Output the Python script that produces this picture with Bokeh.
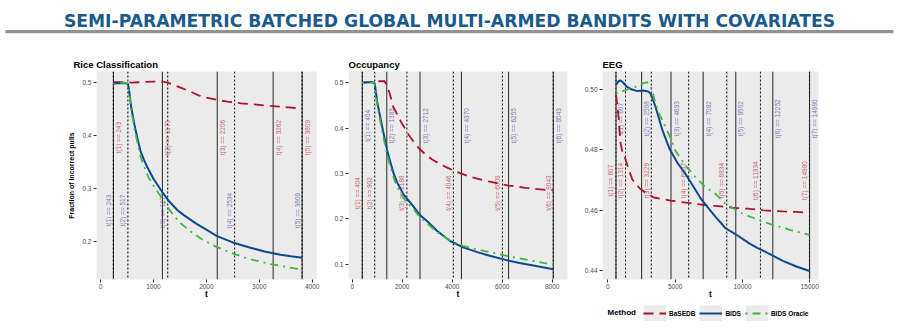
import math
from bokeh.plotting import figure
from bokeh.layouts import column, row
from bokeh.models import (Range1d, FixedTicker, Span, Label, Legend, LegendItem,
                          BoxAnnotation)
from bokeh.core.properties import value
from bokeh.embed import file_html
from bokeh.resources import INLINE

# ---------------------------------------------------------------- data
# Rice Classification
rice_t_basedb = [243, 400, 600, 800, 1000, 1170, 1270, 1400, 1550, 1700, 1850, 2000,
                 2200, 2400, 2650, 2900, 3200, 3500, 3809]
rice_basedb = [0.500, 0.500, 0.499, 0.500, 0.501, 0.501, 0.499, 0.494, 0.488, 0.482,
               0.475, 0.4705, 0.4665, 0.463, 0.460, 0.458, 0.455, 0.453, 0.450]
rice_t_bids = [243, 350, 450, 517, 540, 580, 640, 700, 756, 820, 883, 1000, 1166, 1300,
               1450, 1575, 1800, 2000, 2200, 2500, 2800, 3100, 3400, 3600, 3809]
rice_bids = [0.497, 0.498, 0.498, 0.497, 0.485, 0.452, 0.420, 0.393, 0.370, 0.354,
             0.340, 0.318, 0.293, 0.275, 0.259, 0.2495, 0.234, 0.222, 0.210, 0.198,
             0.189, 0.181, 0.175, 0.172, 0.169]
rice_t_oracle = [243, 350, 450, 517, 540, 580, 640, 700, 756, 820, 900, 1000, 1100,
                 1166, 1260, 1400, 1512, 1701, 1900, 2180, 2508, 2800, 3225, 3500, 3809]
rice_oracle = [0.496, 0.498, 0.499, 0.497, 0.482, 0.448, 0.412, 0.385, 0.360, 0.342,
               0.322, 0.305, 0.290, 0.281, 0.265, 0.247, 0.234, 0.219, 0.205, 0.190,
               0.177, 0.167, 0.157, 0.152, 0.147]
rice_batches_basedb = [243, 1170, 2206, 3262, 3809]
rice_batches_bids = [243, 517, 1270, 2534, 3809]

# Occupancy
occ_t_basedb = [404, 700, 902, 1100, 1300, 1400, 1500, 1640, 1800, 1950, 2100, 2250,
                2440, 2692, 2932, 3200, 3504, 3864, 4172, 4732, 5452, 6252, 6932,
                7732, 8043]
occ_basedb = [0.500, 0.501, 0.502, 0.503, 0.503, 0.492, 0.476, 0.447, 0.430, 0.414,
              0.400, 0.386, 0.371, 0.354, 0.342, 0.331, 0.321, 0.3113, 0.304, 0.2924,
              0.2827, 0.2735, 0.2686, 0.2642, 0.2630]
occ_t = [404, 600, 800, 900, 950, 1000, 1100, 1200, 1383, 1500, 1664, 1800, 2064, 2188,
         2400, 2712, 3000, 3400, 3932, 4464, 5000, 5500, 6172, 6700, 7300, 8043]
occ_bids = [0.500, 0.501, 0.501, 0.499, 0.478, 0.458, 0.430, 0.403, 0.355, 0.330,
            0.299, 0.280, 0.253, 0.2445, 0.231, 0.2085, 0.195, 0.1735, 0.151, 0.137,
            0.127, 0.119, 0.1095, 0.103, 0.097, 0.0895]
occ_oracle = [0.499, 0.500, 0.500, 0.498, 0.472, 0.452, 0.422, 0.393, 0.345, 0.320,
              0.290, 0.271, 0.245, 0.237, 0.225, 0.204, 0.190, 0.171, 0.152, 0.140,
              0.133, 0.127, 0.119, 0.113, 0.107, 0.099]
occ_batches_basedb = [404, 902, 2188, 4046, 6009, 8043]
occ_batches_bids = [404, 1383, 2712, 4370, 6255, 8043]

# EEG
eeg_t_basedb = [607, 700, 817, 944, 1100, 1315, 1550, 1813, 2100, 2429, 2800, 3418,
                4000, 4659, 5300, 5996, 6700, 7386, 8000, 8745, 9500, 10400, 11472,
                12089, 13000, 14000, 14980]
eeg_basedb = [0.4985, 0.495, 0.490, 0.4823, 0.479, 0.4769, 0.4735, 0.4703, 0.4685,
              0.467, 0.4658, 0.4642, 0.4637, 0.4632, 0.4628, 0.4624, 0.462, 0.4616,
              0.4614, 0.4611, 0.4607, 0.4605, 0.460, 0.4598, 0.4596, 0.4594, 0.4592]
eeg_t_bids = [607, 800, 940, 1100, 1400, 1800, 2200, 2600, 3000, 3200, 3544, 4042,
              4607, 5200, 5773, 6400, 6910, 7500, 8002, 8745, 9500, 10500, 11100,
              12000, 13000, 14000, 14980]
eeg_bids = [0.5015, 0.5028, 0.503, 0.5025, 0.501, 0.500, 0.4995, 0.4997, 0.4994,
            0.4985, 0.4943, 0.4867, 0.4801, 0.4755, 0.472, 0.4675, 0.4638, 0.4605,
            0.4578, 0.454, 0.452, 0.449, 0.4475, 0.4455, 0.4432, 0.4413, 0.4398]
eeg_t_oracle = [607, 817, 1100, 1559, 2000, 2550, 2921, 3168, 3300, 3544, 3800, 4161,
                4600, 5030, 5899, 6500, 7259, 8002, 8745, 9986, 11100, 12089, 13574,
                14980]
eeg_oracle = [0.4985, 0.4992, 0.4995, 0.5002, 0.5008, 0.502, 0.5025, 0.5015, 0.4995,
              0.4954, 0.492, 0.4889, 0.4845, 0.4796, 0.4741, 0.471, 0.4676, 0.4654,
              0.4621, 0.4589, 0.4569, 0.4554, 0.4534, 0.4518]
eeg_batches_basedb = [607, 1314, 3229, 6007, 8834, 11334, 14980]
eeg_batches_bids = [607, 2508, 4693, 7082, 9502, 12252, 14980]

# axis ticks
rice_xticks = [0, 1000, 2000, 3000, 4000]
rice_xlabels = ["0", "1000", "2000", "3000", "4000"]
rice_yticks = [0.2, 0.3, 0.4, 0.5]
rice_ylabels = ["0.2", "0.3", "0.4", "0.5"]
occ_xticks = [0, 2000, 4000, 6000, 8000]
occ_xlabels = ["0", "2000", "4000", "6000", "8000"]
occ_yticks = [0.1, 0.2, 0.3, 0.4, 0.5]
occ_ylabels = ["0.1", "0.2", "0.3", "0.4", "0.5"]
eeg_xticks = [0, 5000, 10000, 15000]
eeg_xlabels = ["0", "5000", "10000", "15000"]
eeg_yticks = [0.44, 0.46, 0.48, 0.50]
eeg_ylabels = ["0.44", "0.46", "0.48", "0.50"]

methods = ["BaSEDB", "BIDS", "BIDS Oracle"]

# ---------------------------------------------------------------- style
RED = "#B0122D"
BLUE = "#0B4A8F"
GREEN = "#45B53F"
RED_LABEL = "#C0505C"
BLUE_LABEL = "#6F67AE"
PANEL_BG = "#EBEBEB"
FONT = "Liberation Sans"
RED_DASH = "10 6"
GREEN_DASH = "2 5 8 5"

HEADER_H = 44
PANEL_H = 257
LEGEND_H = 27
BORDER_TOP = 27
FRAME_H = 211


def make_panel(title, width, left, right, xr, yr, xticks, xlabels, yticks, ylabels,
               title_offset=0, ylabel=None):
    p = figure(width=width, height=PANEL_H, x_range=Range1d(*xr), y_range=Range1d(*yr),
               toolbar_location=None, output_backend="svg",
               min_border_left=left, min_border_right=right,
               min_border_top=BORDER_TOP,
               min_border_bottom=PANEL_H - BORDER_TOP - FRAME_H)
    p.background_fill_color = PANEL_BG
    p.border_fill_color = "white"
    p.outline_line_color = None
    p.grid.visible = False

    p.title.text = title
    p.title.align = "left"
    p.title.offset = title_offset
    p.title.text_font = FONT
    p.title.text_font_size = "9.5px"
    p.title.text_font_style = "bold"
    p.title.text_color = "black"
    p.title.standoff = 4

    p.xaxis.ticker = FixedTicker(ticks=xticks)
    p.xaxis.major_label_overrides = dict(zip(xticks, xlabels))
    p.yaxis.ticker = FixedTicker(ticks=yticks)
    p.yaxis.major_label_overrides = dict(zip(yticks, ylabels))
    for ax in (p.xaxis[0], p.yaxis[0]):
        ax.axis_line_color = None
        ax.major_tick_line_color = "#333333"
        ax.major_tick_out = 3
        ax.major_tick_in = 0
        ax.minor_tick_line_color = None
        ax.major_label_text_font = FONT
        ax.major_label_text_font_size = "6.5px"
        ax.major_label_text_color = "#4D4D4D"
        ax.major_label_standoff = 2
        ax.axis_label_text_font = FONT
        ax.axis_label_text_font_style = "bold"
        ax.axis_label_text_color = "black"
    p.xaxis.major_label_standoff = 1
    p.xaxis.axis_label = "t"
    p.xaxis.axis_label_text_font_size = "8.5px"
    p.xaxis.axis_label_standoff = -3
    if ylabel:
        p.yaxis.axis_label = ylabel
        p.yaxis.axis_label_text_font_size = "7px"
        p.yaxis.axis_label_standoff = 4
    return p


def add_batches(p, batches, label_y, color, solid):
    # vertical markers for batch ends, labelled with the batch time
    for t in batches:
        if solid:
            s = Span(location=t, dimension="height", line_color="#1A1A1A",
                     line_width=1.1, line_alpha=0.85, level="underlay")
        else:
            s = Span(location=t, dimension="height", line_color="black",
                     line_width=1, line_dash="2 2", level="underlay")
        p.add_layout(s)
    texts = [f"t({i}) == {t}" for i, t in enumerate(batches, start=1)]
    p.text(x=batches, y=[label_y] * len(batches), text=texts, angle=math.pi / 2,
           x_offset=5 if solid else -5, text_align="center", text_baseline="middle",
           text_font=value(FONT), text_font_size="6.5px", text_color=color,
           text_alpha=0.9)


def add_curves(p, tb, yb, ti, yi, to, yo):
    r_b = p.line(tb, yb, line_color=RED, line_width=1.8, line_dash=RED_DASH)
    r_i = p.line(ti, yi, line_color=BLUE, line_width=2)
    r_o = p.line(to, yo, line_color=GREEN, line_width=1.8, line_dash=GREEN_DASH)
    return r_b, r_i, r_o


def blank_strip(height):
    f = figure(width=898, height=height, x_range=Range1d(0, 898), y_range=Range1d(0, height),
               toolbar_location=None, output_backend="svg", min_border=0,
               x_axis_location=None, y_axis_location=None)
    f.grid.visible = False
    f.outline_line_color = None
    return f


# ---------------------------------------------------------------- header
head = blank_strip(HEADER_H)
head.add_layout(Label(x=449, y=HEADER_H - 20, text="SEMI-PARAMETRIC BATCHED GLOBAL MULTI-ARMED BANDITS WITH COVARIATES",
                      text_align="center", text_baseline="alphabetic",
                      text_font="DejaVu Sans", text_font_size="17.2px",
                      text_font_style="bold", text_color="#1A5A8E"))
head.add_layout(BoxAnnotation(left=5, right=893, top=HEADER_H - 29.5, bottom=HEADER_H - 32.8,
                              fill_color="#929292", fill_alpha=1, line_color=None))

# ---------------------------------------------------------------- panels
p1 = make_panel("Rice Classification", 330, 96, 14, (-76, 4081), (0.1282, 0.5199),
                rice_xticks, rice_xlabels, rice_yticks, rice_ylabels,
                title_offset=-23, ylabel="Fraction of Incorrect pulls")
add_batches(p1, rice_batches_basedb, 0.3955, RED_LABEL, True)
add_batches(p1, rice_batches_bids, 0.258, BLUE_LABEL, False)
add_curves(p1, rice_t_basedb, rice_basedb, rice_t_bids, rice_bids, rice_t_oracle, rice_oracle)

p2 = make_panel("Occupancy", 250, 18, 13, (-148, 8612), (0.0668, 0.5245),
                occ_xticks, occ_xlabels, occ_yticks, occ_ylabels)
add_batches(p2, occ_batches_basedb, 0.257, RED_LABEL, False)
add_batches(p2, occ_batches_bids, 0.405, BLUE_LABEL, True)
add_curves(p2, occ_t_basedb, occ_basedb, occ_t, occ_bids, occ_t, occ_oracle)

p3 = make_panel("EEG", 318, 22, 80, (-394, 15646), (0.437, 0.506),
                eeg_xticks, eeg_xlabels, eeg_yticks, eeg_ylabels)
add_batches(p3, eeg_batches_basedb, 0.4698, RED_LABEL, False)
add_batches(p3, eeg_batches_bids, 0.4903, BLUE_LABEL, True)
add_curves(p3, eeg_t_basedb, eeg_basedb, eeg_t_bids, eeg_bids, eeg_t_oracle, eeg_oracle)

# ---------------------------------------------------------------- legend strip
leg = blank_strip(LEGEND_H)
nan = float("nan")
# key proxies (nothing is drawn in the strip itself): a wide grey line fills each
# key box, and one line sample per method sits on top of it
key_bg = leg.line([nan], [nan], line_color=PANEL_BG, line_width=16)
k_b = leg.line([nan], [nan], line_color=RED, line_width=1.8, line_dash=RED_DASH)
k_i = leg.line([nan], [nan], line_color=BLUE, line_width=2)
k_o = leg.line([nan], [nan], line_color=GREEN, line_width=1.8, line_dash=GREEN_DASH)
legend = Legend(items=[LegendItem(label=m, renderers=[key_bg, r])
                       for m, r in zip(methods, (k_b, k_i, k_o))],
                orientation="horizontal", location=(643, 7),
                glyph_width=23, glyph_height=16, label_standoff=3, spacing=4,
                padding=0, margin=0, label_height=16, label_width=10,
                label_text_font=FONT, label_text_font_size="6.5px",
                label_text_font_style="bold", label_text_color="black",
                border_line_color=None, background_fill_alpha=0)
leg.add_layout(legend)
leg.add_layout(Label(x=607, y=16, x_units="screen", y_units="screen", text="Method",
                     text_font=FONT, text_font_size="8px", text_font_style="bold",
                     text_baseline="middle", text_color="black"))

layout = column(head, row(p1, p2, p3), leg)
open("out.html", "w").write(file_html(layout, INLINE))
